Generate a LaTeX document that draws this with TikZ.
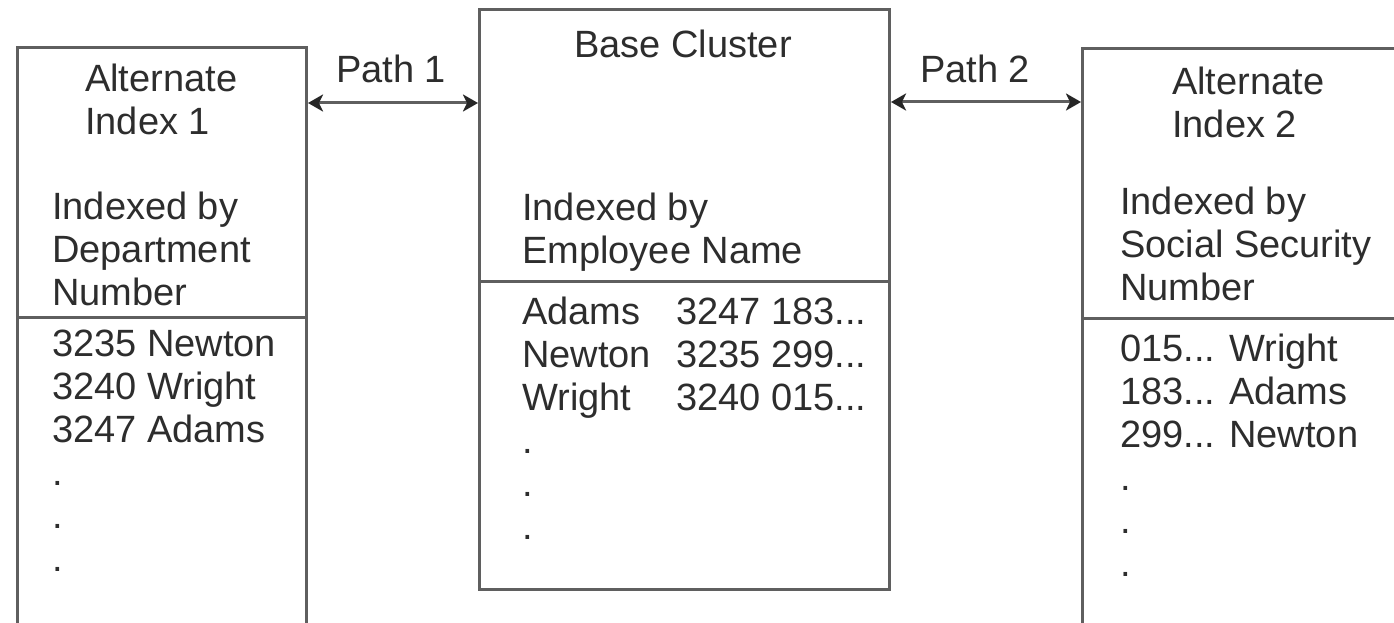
\documentclass[tikz,border=0pt]{standalone}
\usepackage{fontspec}
\setmainfont{Liberation Sans}
\usetikzlibrary{arrows.meta}
\definecolor{boxline}{RGB}{95,95,95}
\definecolor{txt}{RGB}{45,45,45}
\begin{document}
\begin{tikzpicture}[x=1pt,y=-1pt,
  boxst/.style={draw=boxline, line width=3pt, rectangle, inner sep=0pt, anchor=north west},
  divider/.style={draw=boxline, line width=3pt},
  lbl/.style={text=txt, inner sep=0pt, anchor=north west, align=left, font=\fontsize{38}{43}\selectfont},
  ctr/.style={text=txt, inner sep=0pt, anchor=base, font=\fontsize{38}{43}\selectfont},
  link/.style={draw=boxline, line width=3pt, {Stealth[length=15pt,width=17pt,inset=4pt,color=black!85]}-{Stealth[length=15pt,width=17pt,inset=4pt,color=black!85]}}
]
\useasboundingbox (0,0) rectangle (1394,623);
% boxes
\node[boxst, minimum width=289pt, minimum height=700pt] (lbox) at (16,46) {};
\node[boxst, minimum width=410pt, minimum height=580pt] (mbox) at (478,8) {};
\node[boxst, minimum width=400pt, minimum height=700pt] (rbox) at (1081,47) {};
% dividers
\coordinate (ldiv) at (0,317);
\coordinate (mdiv) at (0,281);
\coordinate (rdiv) at (0,318);
\draw[divider] (lbox.west |- ldiv) -- (lbox.east |- ldiv);
\draw[divider] (mbox.west |- mdiv) -- (mbox.east |- mdiv);
\draw[divider] (rbox.west |- rdiv) -- (1400,318);
% connectors
\coordinate (p1) at (0,103);
\coordinate (p2) at (0,102);
\draw[link] (lbox.east |- p1) -- (mbox.west |- p1);
\draw[link] (mbox.east |- p2) -- (rbox.west |- p2);
\node[ctr] (path1) at (391,83) {Path 1};
\node[ctr] (path2) at (975,83) {Path 2};
% left box text
\node[lbl] (ltitle) at (85,64) {Alternate\\Index 1};
\node[lbl] (lidx) at (52,192) {Indexed by\\Department\\Number};
\node[lbl] (ldata) at (52,330) {3235 Newton\\3240 Wright\\3247 Adams\\.\\.\\.};
% middle box text
\node[ctr] (mtitle) at (683,58) {Base Cluster};
\node[lbl] (midx) at (522,193) {Indexed by\\Employee Name};
\node[lbl] (mdata) at (522,297) {\makebox[154pt][l]{Adams}3247 183...\\\makebox[154pt][l]{Newton}3235 299...\\\makebox[154pt][l]{Wright}3240 015...\\.\\.\\.};
% right box text
\node[lbl] (rtitle) at (1172,67) {Alternate\\Index 2};
\node[lbl] (ridx) at (1120,187) {Indexed by\\Social Security\\Number};
\node[lbl] (rdata) at (1120,334) {015... Wright\\183... Adams\\299... Newton\\.\\.\\.};
\end{tikzpicture}
\end{document}
